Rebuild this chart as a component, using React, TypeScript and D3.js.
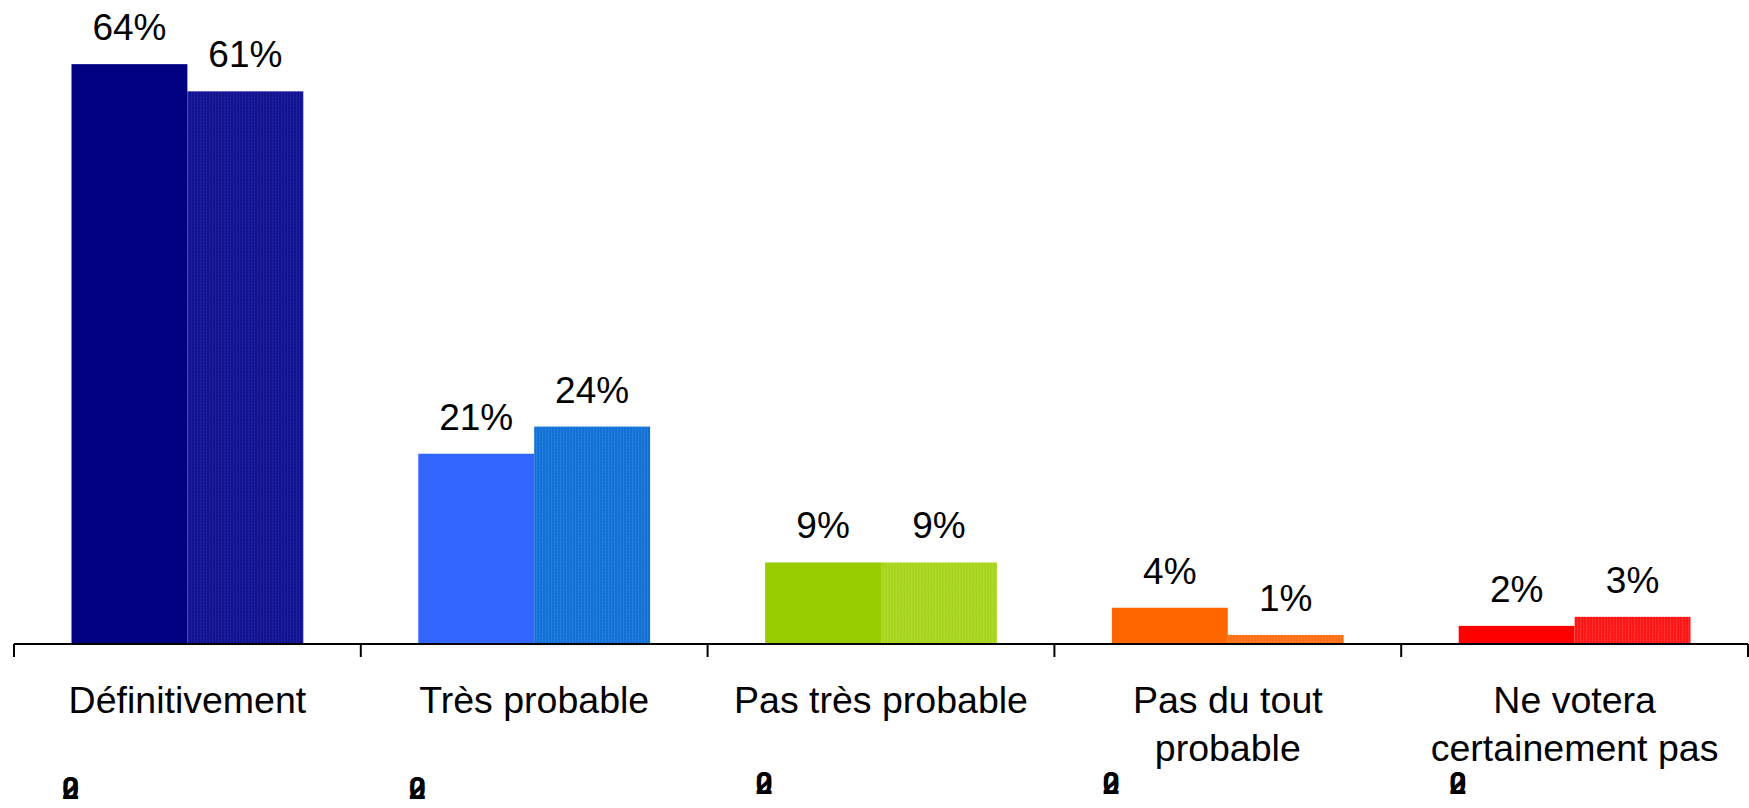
import React from "react";
import * as d3 from "d3";

const categories = [
  ["Définitivement"],
  ["Très probable"],
  ["Pas très probable"],
  ["Pas du tout", "probable"],
  ["Ne votera", "certainement pas"],
];
const seriesNames = ["s1", "s2"];
const series1 = [64, 21, 9, 4, 2];
const series2 = [61, 24, 9, 1, 3];
const colors1 = ["#000080", "#3366FF", "#99CC00", "#FF6600", "#FF0000"];
const colors2 = ["#12128c", "#1070d4", "#a6d31c", "#ff6e14", "#ff1414"];
const stripe2 = ["#2a2ab4", "#3a8ae6", "#b8e040", "#ff8a40", "#ff4a4a"];
const overlayLabels = ["0", "2"];

const W = 1749;
const H = 808;
const axisY = 644;
const left = 14;
const right = 1748;
const pxPerPct = 9.06;

export default function App() {
  const x = d3
    .scaleBand<number>()
    .domain(categories.map((_, i) => i))
    .range([left, right])
    .paddingInner(0)
    .paddingOuter(0);
  const xs = d3
    .scaleBand<string>()
    .domain(seriesNames)
    .range([0, x.bandwidth()])
    .paddingInner(0)
    .paddingOuter(0.496);
  const y = d3
    .scaleLinear()
    .domain([0, 70])
    .range([axisY, axisY - 70 * pxPerPct]);

  const font = "'Liberation Sans', Arial, Helvetica, sans-serif";
  const ticks = d3.range(categories.length + 1).map((i) =>
    i < categories.length ? (x(i) as number) : right
  );

  return (
    <div style={{ position: "fixed", left: 0, top: 0 }}>
      <svg width={W} height={H} style={{ display: "block", background: "#fff" }}>
        <defs>
          {colors2.map((c, i) => (
            <pattern
              key={i}
              id={`pat${i}`}
              width={3}
              height={3}
              patternUnits="userSpaceOnUse"
            >
              <rect width={3} height={3} fill={c} />
              <rect x={2} width={1} height={3} fill={stripe2[i]} opacity={0.5} />
              <rect x={0} y={1} width={1} height={1} fill={stripe2[i]} opacity={0.3} />
            </pattern>
          ))}
        </defs>
        {categories.map((cat, i) => {
          const x0 = x(i) as number;
          const vals = [series1[i], series2[i]];
          return (
            <g key={i}>
              {vals.map((v, j) => {
                const bx = x0 + (xs(seriesNames[j]) as number);
                const bw = xs.bandwidth();
                return (
                  <g key={j}>
                    <rect
                      x={bx}
                      y={y(v)}
                      width={bw}
                      height={axisY - y(v)}
                      fill={j === 0 ? colors1[i] : `url(#pat${i})`}
                    />
                    <text
                      x={bx + bw / 2}
                      y={y(v) - 24}
                      textAnchor="middle"
                      fontFamily={font}
                      fontSize={37}
                      fill="#000"
                    >
                      {v}%
                    </text>
                  </g>
                );
              })}
              {cat.map((line, k) => (
                <text
                  key={k}
                  x={x0 + x.bandwidth() / 2}
                  y={713 + k * 48}
                  textAnchor="middle"
                  fontFamily={font}
                  fontSize={37.5}
                  fill="#000"
                >
                  {line}
                </text>
              ))}
              {overlayLabels.map((t, k) => (
                <text
                  key={`o${k}`}
                  x={x0 + 48}
                  y={i < 2 ? 799 : 794}
                  fontFamily={font}
                  fontSize={31}
                  fontWeight="bold"
                  fill="#000"
                >
                  {t}
                </text>
              ))}
            </g>
          );
        })}
        <line x1={left} x2={right} y1={axisY} y2={axisY} stroke="#000" strokeWidth={2} />
        {ticks.map((t, i) => (
          <line key={i} x1={t} x2={t} y1={axisY} y2={axisY + 13} stroke="#000" strokeWidth={2} />
        ))}
      </svg>
    </div>
  );
}
